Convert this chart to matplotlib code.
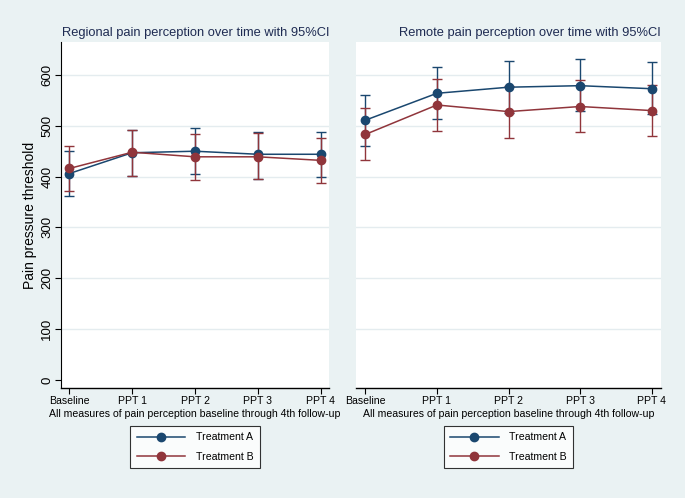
import matplotlib
matplotlib.use('Agg')
import matplotlib.pyplot as plt

# Dados
tempos = ['Baseline', 'PPT 1', 'PPT 2', 'PPT 3', 'PPT 4']

# Regional
reg_a = [406, 447, 450, 444, 444]
reg_a_lo = [361, 402, 406, 396, 399]
reg_a_hi = [451, 492, 496, 487, 488]
reg_b = [416, 448, 439, 439, 432]
reg_b_lo = [371, 402, 394, 395, 387]
reg_b_hi = [461, 492, 483, 485, 477]

# Remote
rem_a = [511, 564, 576, 579, 573]
rem_a_lo = [460, 514, 525, 529, 523]
rem_a_hi = [561, 615, 628, 631, 625]
rem_b = [483, 541, 528, 538, 530]
rem_b_lo = [433, 490, 477, 487, 479]
rem_b_hi = [535, 592, 579, 590, 580]

cor_a = '#1a476f'
cor_b = '#90353b'
fundo = '#eaf2f3'

plt.rcParams['font.family'] = ['Liberation Sans', 'DejaVu Sans']

fig = plt.figure(figsize=(6.85, 4.98), dpi=100, facecolor=fundo)
ax1 = fig.add_axes([0.0891, 0.2209, 0.3912, 0.6948])
ax2 = fig.add_axes([0.5197, 0.2209, 0.4453, 0.6948])

paineis = [
    (ax1, 'Regional pain perception over time with 95%CI',
     reg_a, reg_a_lo, reg_a_hi, reg_b, reg_b_lo, reg_b_hi),
    (ax2, 'Remote pain perception over time with 95%CI',
     rem_a, rem_a_lo, rem_a_hi, rem_b, rem_b_lo, rem_b_hi),
]

x = list(range(len(tempos)))

for ax, titulo, a, a_lo, a_hi, b, b_lo, b_hi in paineis:
    ax.set_facecolor('white')
    # linhas de grade claras
    for v in range(100, 700, 100):
        ax.axhline(v, color='#e4ecef', lw=1.0, zorder=0)

    for val, lo, hi, cor in [(a, a_lo, a_hi, cor_a), (b, b_lo, b_hi, cor_b)]:
        err = [[v - l for v, l in zip(val, lo)], [h - v for v, h in zip(val, hi)]]
        ax.errorbar(x, val, yerr=err, fmt='none', ecolor=cor, elinewidth=1.0,
                    capsize=3.5, capthick=1.0, zorder=2)
    ax.plot(x, a, color=cor_a, lw=1.1, marker='o', ms=6, label='Treatment A', zorder=3)
    ax.plot(x, b, color=cor_b, lw=1.1, marker='o', ms=6, label='Treatment B', zorder=4)

    ax.set_xlim(-0.13, 4.13)
    ax.set_ylim(-16, 665)
    ax.set_xticks(x)
    ax.set_xticklabels(tempos, fontsize=7.6)
    ax.tick_params(axis='x', length=4, width=0.8, pad=2)
    ax.set_xlabel('All measures of pain perception baseline through 4th follow-up',
                  fontsize=7.6, labelpad=2)
    ax.set_title(titulo, fontsize=9.3, color='#1e2b52', loc='right', pad=4)

    ax.spines['top'].set_visible(False)
    ax.spines['right'].set_visible(False)
    ax.spines['bottom'].set_linewidth(1.0)

    leg = ax.legend(loc='upper center', bbox_to_anchor=(0.5, -0.095), fontsize=7.6,
                    frameon=True, fancybox=False, edgecolor='black', facecolor='white',
                    handlelength=4.6, handletextpad=1.0, labelspacing=0.9,
                    borderpad=0.6)
    leg.get_frame().set_linewidth(0.8)

ax1.set_yticks(range(0, 700, 100))
ax1.set_yticklabels([str(v) for v in range(0, 700, 100)], rotation=90, va='center', fontsize=9.5)
ax1.tick_params(axis='y', length=4, width=0.8, pad=1.5)
ax1.set_ylabel('Pain pressure threshold', fontsize=10, labelpad=3)

ax2.spines['left'].set_visible(False)
ax2.set_yticks([])

fig.savefig('out.png', dpi=100, facecolor=fundo)
